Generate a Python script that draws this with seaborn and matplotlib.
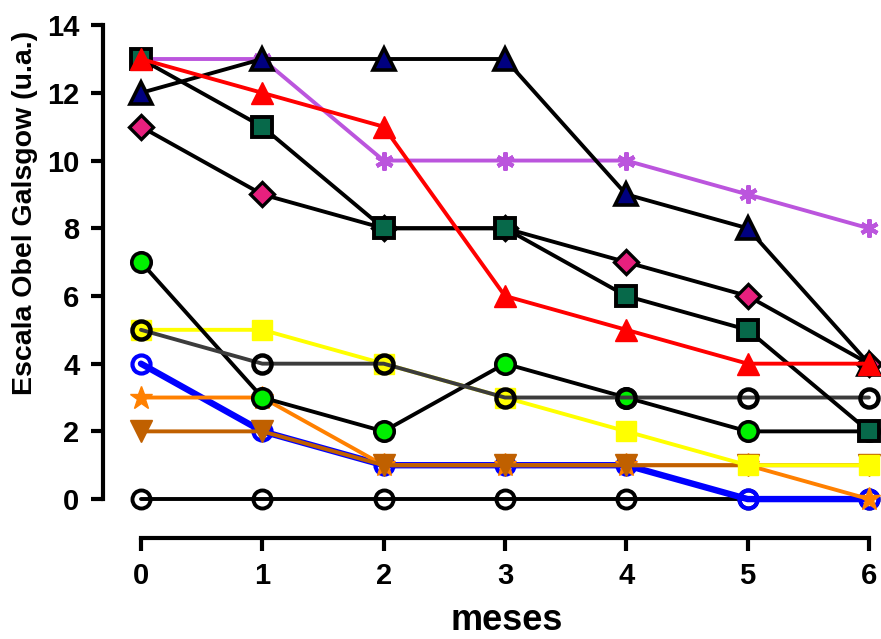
import matplotlib
matplotlib.use("Agg")
import matplotlib.pyplot as plt
import seaborn as sns
import pandas as pd

sns.set_theme(style="ticks")
plt.rcParams['font.family'] = ['Liberation Sans', 'DejaVu Sans']
plt.rcParams['font.weight'] = 'bold'
plt.rcParams['text.color'] = 'black'
plt.rcParams['axes.labelcolor'] = 'black'

months = [0, 1, 2, 3, 4, 5, 6]
s_zero = [0, 0, 0, 0, 0, 0, 0]
s_blue = [4, 2, 1, 1, 1, 0, 0]
s_orange = [3, 3, 1, 1, 1, 1, 0]
s_brown = [2, 2, 1, 1, 1, 1, 1]
s_yellow = [5, 5, 4, 3, 2, 1, 1]
s_purple = [13, 13, 10, 10, 10, 9, 8]
s_green = [7, 3, 2, 4, 3, 2, 2]
s_opencirc = [5, 4, 4, 3, 3, 3, 3]
s_pink = [11, 9, 8, 8, 7, 6, 4]
s_square = [13, 11, 8, 8, 6, 5, 2]
s_navy = [12, 13, 13, 13, 9, 8, 4]
s_red = [13, 12, 11, 6, 5, 4, 4]

fig = plt.figure(figsize=(8.81, 6.39), dpi=100)
ax = fig.add_axes([103/881, (639-538)/639, (875-103)/881, (538-15)/639])

LW = 2.8
series = [
    (s_zero, dict(color='black', linewidth=LW, marker='o', ms=13, mfc='none', mec='black', mew=2.8)),
    (s_blue, dict(color='#0000FF', linewidth=4.6, marker='o', ms=13, mfc='none', mec='#0000FF', mew=3.0)),
    (s_orange, dict(color='#FF8000', linewidth=LW, marker='*', ms=17, mfc='#FF8000', mec='#FF8000', mew=1)),
    (s_brown, dict(color='#C06000', linewidth=LW, marker='v', ms=16, mfc='#C06000', mec='#C06000', mew=1)),
    (s_yellow, dict(color='#FFFF00', linewidth=LW, marker='s', ms=14, mfc='#FFFF00', mec='#FFFF00', mew=1)),
    (s_purple, dict(color='#BB55DD', linewidth=LW, marker=(6, 2, 0), ms=13, mfc='#BB55DD', mec='#BB55DD', mew=3.0)),
    (s_green, dict(color='black', linewidth=LW, marker='o', ms=14, mfc='#00F000', mec='black', mew=2.6)),
    (s_opencirc, dict(color='#3C3C3C', linewidth=LW, marker='o', ms=13, mfc='none', mec='black', mew=3.2)),
    (s_pink, dict(color='black', linewidth=LW, marker='D', ms=12, mfc='#E8207E', mec='black', mew=2.4)),
    (s_square, dict(color='black', linewidth=LW, marker='s', ms=15, mfc='#07694A', mec='black', mew=2.8)),
    (s_navy, dict(color='black', linewidth=LW, marker='^', ms=16, mfc='#000080', mec='black', mew=2.6)),
    (s_red, dict(color='#FF0000', linewidth=LW, marker='^', ms=16, mfc='#FF0000', mec='#FF0000', mew=1)),
]

for i, (vals, kw) in enumerate(series):
    df = pd.DataFrame({'meses': months, 'valor': vals})
    sns.lineplot(data=df, x='meses', y='valor', ax=ax, zorder=3 + i,
                 clip_on=False, **kw)

ax.set_xlim(-0.313, 6.05)
ax.set_ylim(-1.15, 14.3)
ax.set_xticks(months)
ax.set_yticks([0, 2, 4, 6, 8, 10, 12, 14])
ax.spines['top'].set_visible(False)
ax.spines['right'].set_visible(False)
ax.spines['left'].set_bounds(0, 14)
ax.spines['bottom'].set_bounds(0, 6)
for sp in ('left', 'bottom'):
    ax.spines[sp].set_linewidth(3.0)
    ax.spines[sp].set_color('black')
ax.tick_params(axis='both', width=3.0, length=9, labelsize=21, colors='black', pad=8)
for lab in ax.get_xticklabels() + ax.get_yticklabels():
    lab.set_fontweight('bold')
ax.set_xlabel('meses', fontsize=26, fontweight='bold', color='black')
ax.set_ylabel('Escala Obel Galsgow (u.a.)', fontsize=20.5, fontweight='bold', color='black')
ax.xaxis.label.set_va('bottom')
ax.xaxis.set_label_coords((507 - 103) / 772, (538 - 638) / 523)
ax.yaxis.set_label_coords((38 - 103) / 772, (538 - 213) / 523)
ax.set_facecolor('white')
fig.patch.set_facecolor('white')

fig.savefig('out.png', dpi=100)
